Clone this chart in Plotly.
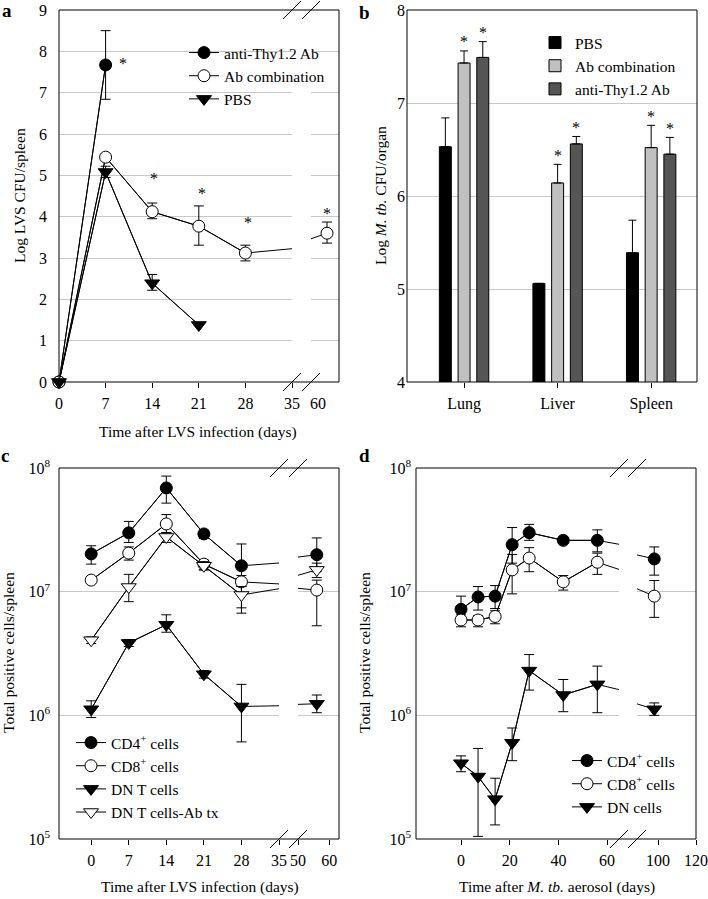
import plotly.graph_objects as go

W, H = 708, 899
FONT = "Liberation Serif, Times New Roman, serif"

# ---- panel a : Log LVS CFU/spleen ----
thy_a_days = [0, 7]
thy_a = [0, 7.67]
thy_a_hi = [0, 8.5]
thy_a_lo = [0, 6.84]

abc_a_days = [0, 7, 14, 21, 28, 60]
abc_a = [0, 5.44, 4.12, 3.77, 3.12, 3.6]
abc_a_hi = [0, 5.44, 4.33, 4.26, 3.31, 3.87]
abc_a_lo = [0, 5.44, 3.95, 3.31, 2.93, 3.36]

pbs_a_days = [0, 7, 14, 21]
pbs_a = [0, 5.08, 2.39, 1.38]
pbs_a_hi = [0, 5.22, 2.6, 1.38]
pbs_a_lo = [0, 4.95, 2.22, 1.38]

star_a_days = [9.6, 14.2, 21.5, 28.4, 60]
star_a_vals = [7.79, 5.0, 4.63, 3.92, 4.14]

# ---- panel b : Log M. tb. CFU/organ ----
organs = ["Lung", "Liver", "Spleen"]
pbs_b = [6.53, 5.06, 5.39]
pbs_b_top = [6.84, 5.06, 5.74]
abc_b = [7.43, 6.14, 6.52]
abc_b_top = [7.56, 6.34, 6.76]
thy_b = [7.49, 6.56, 6.45]
thy_b_top = [7.66, 6.64, 6.63]

# ---- panel c : LVS, total positive cells/spleen ----
days_c = [0, 7, 14, 21, 28, 56]
cd4_c = [2.02e7, 2.99e7, 6.9e7, 2.93e7, 1.62e7, 1.99e7]
cd4_c_hi = [2.35e7, 3.7e7, 8.6e7, 3.15e7, 2.43e7, 2.72e7]
cd4_c_lo = [1.67e7, 2.5e7, 5.2e7, 2.7e7, 1.1e7, 1.45e7]
cd8_c = [1.24e7, 2.05e7, 3.53e7, 1.67e7, 1.2e7, 1.03e7]
cd8_c_hi = [1.3e7, 2.3e7, 4.2e7, 1.8e7, 1.35e7, 1.24e7]
cd8_c_lo = [1.18e7, 1.8e7, 3.0e7, 1.5e7, 7.4e6, 5.3e6]
dn_c = [1.12e6, 3.85e6, 5.4e6, 2.15e6, 1.18e6, 1.24e6]
dn_c_hi = [1.31e6, 4.1e6, 6.5e6, 2.3e6, 1.78e6, 1.46e6]
dn_c_lo = [9.6e5, 3.6e6, 4.7e6, 2.0e6, 6.1e5, 1.05e6]
dnab_c = [4.05e6, 1.09e7, 2.77e7, 1.62e7, 9.4e6, 1.5e7]
dnab_c_hi = [4.3e6, 1.38e7, 3.0e7, 1.75e7, 1.1e7, 1.7e7]
dnab_c_lo = [3.8e6, 8.3e6, 2.5e7, 1.5e7, 6.7e6, 1.3e7]

# ---- panel d : M. tb. aerosol, total positive cells/spleen ----
days_d = [0, 7, 14, 21, 28, 42, 56, 98]
cd4_d = [7.2e6, 9.06e6, 9.2e6, 2.4e7, 3.0e7, 2.6e7, 2.6e7, 1.84e7]
cd4_d_hi = [9.2e6, 1.1e7, 1.12e7, 3.3e7, 3.5e7, 2.7e7, 3.16e7, 2.3e7]
cd4_d_lo = [5.7e6, 7.1e6, 7.3e6, 1.7e7, 2.6e7, 2.5e7, 2.1e7, 1.36e7]
cd8_d = [5.9e6, 5.9e6, 6.3e6, 1.5e7, 1.87e7, 1.2e7, 1.73e7, 9.2e6]
cd8_d_hi = [6.5e6, 6.4e6, 7.0e6, 2.0e7, 2.27e7, 1.35e7, 2.05e7, 1.23e7]
cd8_d_lo = [5.2e6, 5.2e6, 5.5e6, 9.6e6, 1.45e7, 1.03e7, 1.38e7, 6.2e6]
dn_d = [4.1e5, 3.2e5, 2.1e5, 6.0e5, 2.3e6, 1.46e6, 1.78e6, 1.12e6]
dn_d_hi = [4.7e5, 5.4e5, 3.1e5, 7.9e5, 3.1e6, 1.95e6, 2.5e6, 1.26e6]
dn_d_lo = [3.5e5, 1.05e5, 1.3e5, 4.3e5, 1.6e6, 1.07e6, 1.05e6, 1.0e6]


def px(x):
    return x / W


def py(y):
    return 1 - y / H


FILLED_CIRCLE = dict(symbol="circle", size=12, color="black", line=dict(color="black", width=1))
OPEN_CIRCLE = dict(symbol="circle", size=12, color="white", line=dict(color="black", width=1))
FILLED_TRI = dict(symbol="triangle-down", size=13, color="black", line=dict(color="black", width=1))
OPEN_TRI = dict(symbol="triangle-down", size=13, color="white", line=dict(color="black", width=1))

fig = go.Figure()


def add_panel(series, axes, yaxis, legend):
    # axes: list of (xaxis name, (xmin, xmax)) -- one per side of the axis break
    for s in series:
        for xa, _ in axes:
            fig.add_trace(go.Scatter(
                x=s["x"], y=s["y"], mode="lines", line=dict(color="black", width=1),
                xaxis=xa, yaxis=yaxis, showlegend=False, hoverinfo="skip"))
    for s in series:
        first = True
        for xa, (lo, hi) in axes:
            idx = [i for i, v in enumerate(s["x"]) if lo <= v <= hi]
            if not idx:
                continue
            fig.add_trace(go.Scatter(
                x=[s["x"][i] for i in idx],
                y=[s["y"][i] for i in idx],
                error_y=dict(type="data", symmetric=False,
                             array=[s["hi"][i] - s["y"][i] for i in idx],
                             arrayminus=[s["y"][i] - s["lo"][i] for i in idx],
                             color="black", thickness=1, width=5),
                mode="lines+markers", line=dict(color="black", width=1),
                marker=s["marker"], name=s["name"], cliponaxis=False,
                xaxis=xa, yaxis=yaxis, legend=legend, showlegend=first))
            first = False


# panel a
A_LEFT = (0, 35)
A_RIGHT = (50.96, 66.78)
add_panel([
    dict(x=thy_a_days, y=thy_a, hi=thy_a_hi, lo=thy_a_lo, marker=FILLED_CIRCLE, name="anti-Thy1.2 Ab"),
    dict(x=abc_a_days, y=abc_a, hi=abc_a_hi, lo=abc_a_lo, marker=OPEN_CIRCLE, name="Ab combination"),
    dict(x=pbs_a_days, y=pbs_a, hi=pbs_a_hi, lo=pbs_a_lo, marker=FILLED_TRI, name="PBS"),
], [("x", A_LEFT), ("x2", A_RIGHT)], "y", "legend")

# panel b
bar_specs = [
    ("PBS", pbs_b, pbs_b_top, "black"),
    ("Ab combination", abc_b, abc_b_top, "#c0c0c0"),
    ("anti-Thy1.2 Ab", thy_b, thy_b_top, "#555555"),
]
for name, vals, tops, color in bar_specs:
    err = [t - v if t > v else None for t, v in zip(tops, vals)]
    fig.add_trace(go.Bar(
        x=organs, y=vals, name=name,
        marker=dict(color=color, line=dict(color="black", width=1)),
        error_y=dict(type="data", symmetric=False, array=err,
                     arrayminus=[0] * len(vals), color="black", thickness=1, width=4),
        xaxis="x3", yaxis="y2", legend="legend2"))

# panel c
C_LEFT = (-6, 35)
C_RIGHT = (50, 63.1)
add_panel([
    dict(x=days_c, y=cd4_c, hi=cd4_c_hi, lo=cd4_c_lo, marker=FILLED_CIRCLE, name="CD4<sup>+</sup> cells"),
    dict(x=days_c, y=cd8_c, hi=cd8_c_hi, lo=cd8_c_lo, marker=OPEN_CIRCLE, name="CD8<sup>+</sup> cells"),
    dict(x=days_c, y=dn_c, hi=dn_c_hi, lo=dn_c_lo, marker=FILLED_TRI, name="DN T cells"),
    dict(x=days_c, y=dnab_c, hi=dnab_c_hi, lo=dnab_c_lo, marker=OPEN_TRI, name="DN T cells-Ab tx"),
], [("x4", C_LEFT), ("x5", C_RIGHT)], "y3", "legend3")

# panel d
D_LEFT = (-18.5, 64.9)
D_RIGHT = (88.9, 120)
add_panel([
    dict(x=days_d, y=cd4_d, hi=cd4_d_hi, lo=cd4_d_lo, marker=FILLED_CIRCLE, name="CD4<sup>+</sup> cells"),
    dict(x=days_d, y=cd8_d, hi=cd8_d_hi, lo=cd8_d_lo, marker=OPEN_CIRCLE, name="CD8<sup>+</sup> cells"),
    dict(x=days_d, y=dn_d, hi=dn_d_hi, lo=dn_d_lo, marker=FILLED_TRI, name="DN cells"),
], [("x6", D_LEFT), ("x7", D_RIGHT)], "y4", "legend4")

tickfont = dict(family=FONT, size=16, color="black")
xbase = dict(showgrid=False, zeroline=False, showline=False, ticks="outside", ticklen=5,
             tickwidth=1, tickcolor="black", tickfont=tickfont, ticklabelstandoff=2,
             fixedrange=True)
ybase = dict(showgrid=True, gridcolor="#c8c8c8", gridwidth=1, zeroline=False, showline=False,
             ticks="", tickfont=tickfont, fixedrange=True)

log_ticks = [1e5, 1e6, 1e7, 1e8]
log_text = ["10<sup>5</sup>", "10<sup>6</sup>", "10<sup>7</sup>", "10<sup>8</sup>"]

fig.update_layout(
    xaxis=dict(xbase, domain=[px(59), px(292)], range=list(A_LEFT), anchor="y",
               tickvals=[0, 7, 14, 21, 28, 35]),
    xaxis2=dict(xbase, domain=[px(311), px(339)], range=list(A_RIGHT), anchor="y",
                tickvals=[60], tickcolor="rgba(0,0,0,0)", ticklabelshift=-9),
    yaxis=dict(ybase, domain=[py(382), py(10)], range=[0, 9], anchor="x",
               tickvals=list(range(10)), ticklabelstandoff=11),
    xaxis3=dict(xbase, domain=[px(407), px(697)], range=[-0.61, 2.49], anchor="y2",
                type="category"),
    yaxis2=dict(ybase, domain=[py(382), py(10)], range=[4, 8], anchor="x3",
                tickvals=[4, 5, 6, 7, 8], ticklabelstandoff=1),
    xaxis4=dict(xbase, domain=[px(59), px(279)], range=list(C_LEFT), anchor="y3",
                tickvals=[0, 7, 14, 21, 28, 35]),
    xaxis5=dict(xbase, domain=[px(298), px(339)], range=list(C_RIGHT), anchor="y3",
                tickvals=[50, 60]),
    yaxis3=dict(ybase, domain=[py(839), py(468)], type="log", range=[5, 8], anchor="x4",
                tickvals=log_ticks, ticktext=log_text, ticklabelstandoff=8),
    xaxis6=dict(xbase, domain=[px(416), px(619)], range=list(D_LEFT), anchor="y4",
                tickvals=[0, 20, 40, 60]),
    xaxis7=dict(xbase, domain=[px(637), px(696)], range=list(D_RIGHT), anchor="y4",
                tickvals=[100, 120]),
    yaxis4=dict(ybase, domain=[py(839), py(468)], type="log", range=[5, 8], anchor="x6",
                tickvals=log_ticks, ticktext=log_text, ticklabelstandoff=4),
    barmode="group", bargap=0.4, bargroupgap=0.36,
)

legfont = dict(family=FONT, size=15.5, color="black")
legbase = dict(xanchor="left", yanchor="top", bgcolor="rgba(0,0,0,0)", borderwidth=0,
               font=legfont, tracegroupgap=0, itemwidth=30)
fig.update_layout(
    legend=dict(legbase, x=px(184), y=py(36)),
    legend2=dict(legbase, x=px(535), y=py(26)),
    legend3=dict(legbase, x=px(71), y=py(726)),
    legend4=dict(legbase, x=px(567), y=py(744)),
)

# frames and axis-break marks
shapes = []
for l, r, t, b in [(59, 339, 10, 382), (407, 697, 10, 382), (59, 339, 468, 839), (416, 696, 468, 839)]:
    shapes.append(dict(type="rect", xref="paper", yref="paper", x0=px(l), x1=px(r),
                       y0=py(b), y1=py(t), line=dict(color="black", width=1), layer="above"))
for cx, cy in [(292, 10), (311, 10), (292, 382), (311, 382),
               (279, 468), (298, 468), (279, 839), (298, 839),
               (619, 468), (637, 468), (619, 839), (637, 839)]:
    shapes.append(dict(type="line", xref="paper", yref="paper",
                       x0=px(cx - 9), y0=py(cy + 9), x1=px(cx + 9), y1=py(cy - 9),
                       line=dict(color="black", width=1), layer="above"))

# annotations: panel letters, axis titles, significance stars
ann = []
for letter, x, y in [("a", 7, 10), ("b", 364, 12), ("c", 5, 455), ("d", 364, 455)]:
    ann.append(dict(text=f"<b>{letter}</b>", x=px(x), y=py(y), xref="paper", yref="paper",
                    showarrow=False, xanchor="center", yanchor="middle",
                    font=dict(family=FONT, size=19, color="black")))
for text, x, y, angle, size in [
    ("Log LVS CFU/spleen", 19, 196, -90, 15.5),
    ("Log <i>M. tb.</i> CFU/organ", 380, 196, -90, 15.5),
    ("Total positive cells/spleen", 8, 653, -90, 15.5),
    ("Total positive cells/spleen", 364, 653, -90, 15.5),
    ("Time after LVS infection (days)", 198, 432, 0, 15.5),
    ("Time after LVS infection (days)", 200, 887, 0, 15.5),
    ("Time after <i>M. tb.</i> aerosol (days)", 557, 887, 0, 15.5),
]:
    ann.append(dict(text=text, x=px(x), y=py(y), xref="paper", yref="paper", showarrow=False,
                    xanchor="center", yanchor="middle", textangle=angle,
                    font=dict(family=FONT, size=size, color="black")))

star = dict(family=FONT, size=16, color="black")
for d, v in zip(star_a_days, star_a_vals):
    xa = "x" if d <= A_LEFT[1] else "x2"
    ann.append(dict(text="*", x=d, y=v, xref=xa, yref="y", showarrow=False,
                    xanchor="center", yanchor="middle", yshift=-3, font=star))

for shift, tops in [(0.0, abc_b_top), (0.2, thy_b_top)]:
    for i, t in enumerate(tops):
        ann.append(dict(text="*", x=i + shift, y=t, xref="x3", yref="y2", showarrow=False,
                        xanchor="center", yanchor="middle", yshift=9, font=star))

fig.update_layout(
    width=W, height=H, margin=dict(l=0, r=0, t=0, b=0, autoexpand=False),
    paper_bgcolor="white", plot_bgcolor="white",
    shapes=shapes, annotations=ann, showlegend=True,
    font=dict(family=FONT, size=14, color="black"),
)

# drop the page's default body margin so the 708x899 figure fills the window
fig.write_html("out.html", config={"displayModeBar": False},
               post_script="document.body.style.margin = '0px';")
